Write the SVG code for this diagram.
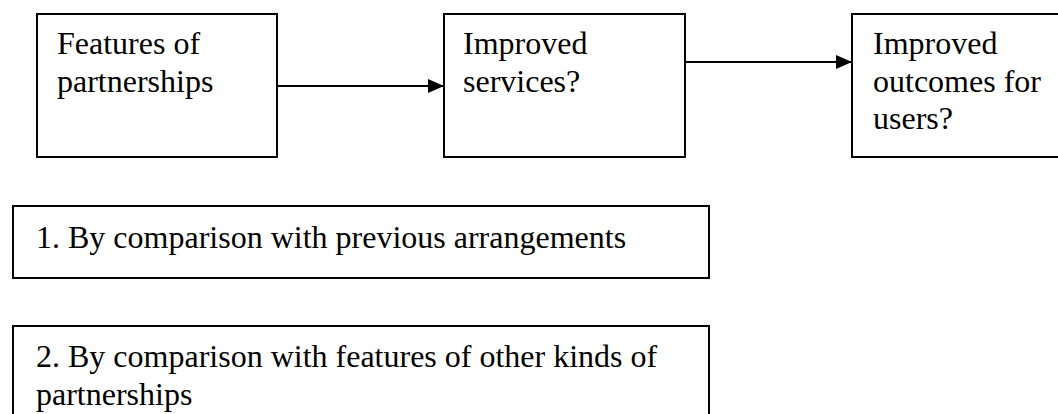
<svg xmlns="http://www.w3.org/2000/svg" width="1058" height="414" viewBox="0 0 1058 414">
<style>
.box{fill:#fff;stroke:#000;stroke-width:2}
.t{font-family:"Liberation Serif","Times New Roman",serif;font-size:32px;fill:#000}
.c{stroke:#000;stroke-width:2;fill:none}
</style>
<defs>
<marker id="ah" markerUnits="userSpaceOnUse" markerWidth="16" markerHeight="14" refX="16" refY="7" orient="auto">
<path d="M0,0 L16,7 L0,14 Z" fill="#000"/>
</marker>
</defs>
<rect width="1058" height="414" fill="#fff"/>
<g id="features">
<rect class="box" x="37" y="14" width="240" height="143"/>
<text class="t" x="57" y="54">Features of</text>
<text class="t" x="57" y="92">partnerships</text>
</g>
<g id="services">
<rect class="box" x="444" y="14" width="241" height="143"/>
<text class="t" x="463" y="54">Improved</text>
<text class="t" x="463" y="92">services?</text>
</g>
<g id="outcomes">
<rect class="box" x="852" y="14" width="220" height="143"/>
<text class="t" x="873" y="54">Improved</text>
<text class="t" x="873" y="92">outcomes for</text>
<text class="t" x="873" y="129">users?</text>
</g>
<g id="comparison1">
<rect class="box" x="13" y="206" width="696" height="72"/>
<text class="t" x="36" y="248">1. By comparison with previous arrangements</text>
</g>
<g id="comparison2">
<rect class="box" x="13" y="326" width="696" height="100"/>
<text class="t" x="36" y="367">2. By comparison with features of other kinds of</text>
<text class="t" x="36" y="405">partnerships</text>
</g>
<g id="connectors">
<line class="c" x1="277" y1="86" x2="444" y2="86" marker-end="url(#ah)"/>
<line class="c" x1="685" y1="62" x2="852" y2="62" marker-end="url(#ah)"/>
</g>
</svg>
